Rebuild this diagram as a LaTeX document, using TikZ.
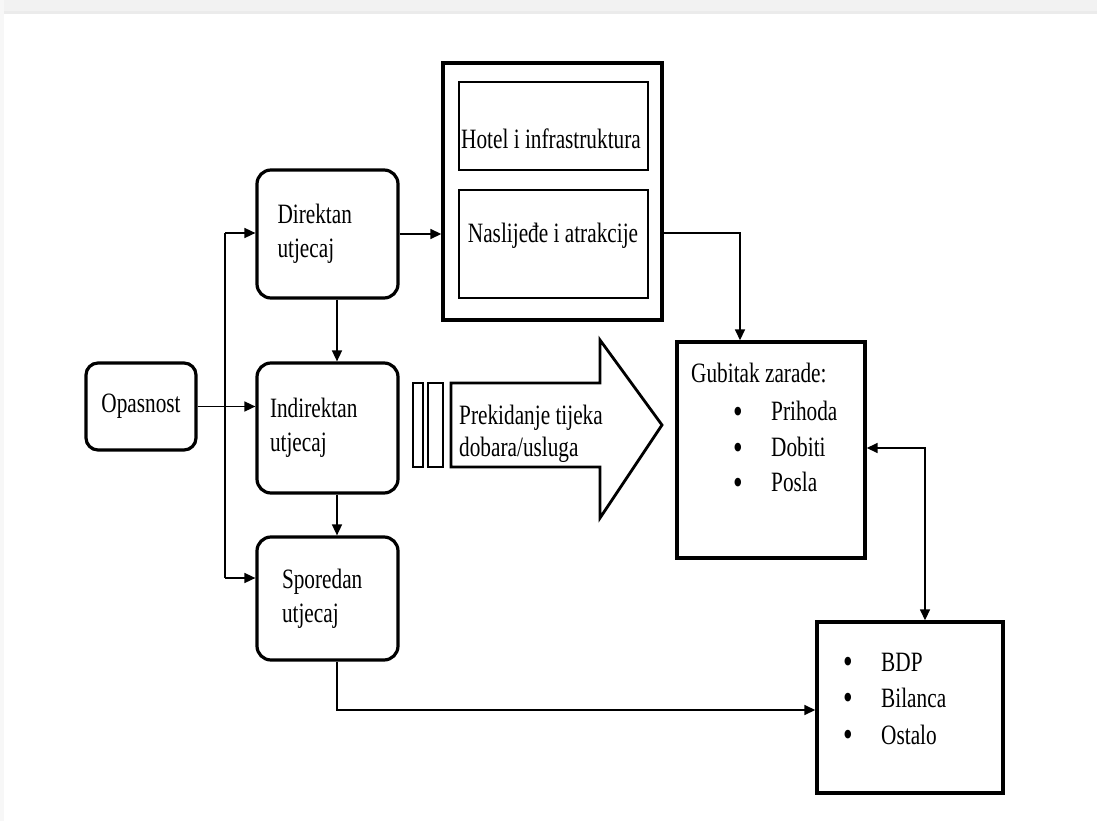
\documentclass[tikz,border=0pt]{standalone}
\usepackage{fontspec}
\setmainfont{Liberation Serif}[FakeStretch=0.76]
\usetikzlibrary{arrows.meta}
\begin{document}
\begin{tikzpicture}[x=1pt,y=-1pt,
  rbox/.style={draw, line width=3.2pt, rounded corners=14pt, minimum width=141pt, minimum height=128pt, inner sep=0pt, align=left, font=\fontsize{28}{34}\selectfont},
  sbox/.style={draw, line width=3.4pt, inner sep=0pt},
  ibox/.style={draw, line width=2.2pt, inner sep=0pt},
  txt/.style={inner sep=0pt, font=\fontsize{28}{34}\selectfont},
  bul/.style={inner sep=0pt, font=\fontsize{36}{36}\selectfont, anchor=base},
  conn/.style={line width=1.6pt},
  tip/.style={-{Triangle[length=11pt,width=10pt]}},
  arr/.style={conn, tip}
]
\useasboundingbox (0,0) rectangle (1097,821);
\fill[white] (0,0) rectangle (1097,821);
% screenshot frame
\fill[gray!10] (0,0) rectangle (1097,12);
\fill[gray!16] (0,11) rectangle (1097,14);
\fill[gray!6] (0,0) rectangle (4,821);

% left column
\node[rbox, minimum width=110pt, minimum height=87pt, rounded corners=12pt] (op) at (141,406.5) {Opasnost};
\node[rbox, text width=100pt] (dir) at (327.5,234) {Direktan\\utjecaj};
\node[rbox, text width=115pt, minimum height=130pt] (ind) at (327.5,428) {Indirektan\\utjecaj};
\node[rbox, text width=91pt, minimum height=123pt] (spor) at (327.5,598.5) {Sporedan\\utjecaj};

% direct impacts
\node[sbox, minimum width=219pt, minimum height=257pt] (big) at (552.5,191.5) {};
\node[ibox, minimum width=189pt, minimum height=88pt] (hotel) at (553.5,126) {};
\node[ibox, minimum width=189pt, minimum height=108pt] (nasl) at (553.5,244) {};
\node[txt] (hoteltxt) at (551,139) {Hotel i infrastruktura};
\node[txt] (nasltxt) at (553,236) {Naslijeđe i atrakcije};

% block arrow
\draw[line width=2.4pt] (413,383) rectangle (423,467);
\draw[line width=2.4pt] (428,383) rectangle (443,467);
\draw[line width=2.8pt, line join=miter] (451,383) -- (600,383) -- (600,340) -- (662,425) -- (600,518) -- (600,467) -- (451,467) -- cycle;
\node[txt, anchor=base west] (pr1) at (459,424) {Prekidanje tijeka};
\node[txt, anchor=base west] (pr2) at (459,456) {dobara/usluga};

% loss of earnings
\node[sbox, minimum width=188pt, minimum height=216pt] (gub) at (771,450) {};
\node[txt, anchor=base west] (g0) at (691,382) {Gubitak zarade:};
\node[bul] (gb1) at (738,423) {•};
\node[bul] (gb2) at (738,459) {•};
\node[bul] (gb3) at (738,494) {•};
\node[txt, anchor=base west] (g1) at (771,420) {Prihoda};
\node[txt, anchor=base west] (g2) at (771,456) {Dobiti};
\node[txt, anchor=base west] (g3) at (771,491) {Posla};

% BDP box
\node[sbox, minimum width=186pt, minimum height=171pt] (bdp) at (910,707.5) {};
\node[bul] (bb1) at (848,673) {•};
\node[bul] (bb2) at (848,709) {•};
\node[bul] (bb3) at (848,746) {•};
\node[txt, anchor=base west] (b1) at (881,671) {BDP};
\node[txt, anchor=base west] (b2) at (881,707) {Bilanca};
\node[txt, anchor=base west] (b3) at (881,744) {Ostalo};

% connectors
\coordinate (vt) at (225,233);
\coordinate (vb) at (225,578);
\draw[conn] (vt) -- (vb);
\draw[arr] (vt) -- (vt -| dir.west);
\draw[arr] (vb) -- (vb -| spor.west);
\draw[arr] (op.east) -- (op.east -| ind.west);
\coordinate (cx) at (337,0);
\draw[arr] (dir.south -| cx) -- (ind.north -| cx);
\draw[arr] (ind.south -| cx) -- (spor.north -| cx);
\draw[arr] (dir.east) -- (dir.east -| big.west);
\coordinate (c1) at (740,233);
\draw[arr] (big.east |- c1) -- (c1) -- (c1 |- gub.north);
\coordinate (c2) at (925,448);
\draw[conn, {Triangle[length=11pt,width=10pt]}-{Triangle[length=11pt,width=10pt]}] (gub.east |- c2) -- (c2) -- (c2 |- bdp.north);
\coordinate (c3) at (337,710);
\draw[arr] (spor.south -| c3) -- (c3) -- (c3 -| bdp.west);
\end{tikzpicture}
\end{document}
